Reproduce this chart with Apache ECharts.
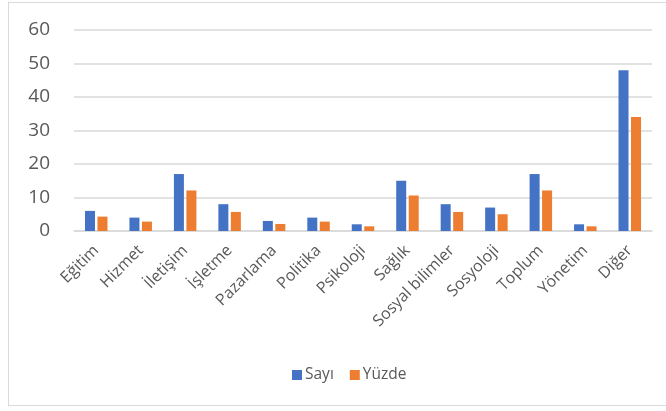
<!DOCTYPE html>
<html><head><meta charset="utf-8">
<script src="https://cdn.jsdelivr.net/npm/echarts@6/dist/echarts.min.js"></script>
<style>html,body{margin:0;padding:0;background:#fff;}
#frame{position:absolute;left:8px;top:2px;width:660px;height:404px;border:1.5px solid #d9d9d9;box-sizing:border-box;}
#c{position:absolute;left:0;top:0;width:666px;height:411px;}</style>
</head><body><div id="frame"></div><div id="c"></div>
<script>
const categories = ["Eğitim","Hizmet","İletişim","İşletme","Pazarlama","Politika","Psikoloji","Sağlık","Sosyal bilimler","Sosyoloji","Toplum","Yönetim","Diğer"];
const sayi = [6,4,17,8,3,4,2,15,8,7,17,2,48];
const yuzde = [4.3,2.8,12.1,5.7,2.1,2.8,1.4,10.6,5.7,5.0,12.1,1.4,34.0];
const yTicks = [0,10,20,30,40,50,60];
const font = "Open Sans";
const chart = echarts.init(document.getElementById('c'));
chart.setOption({
  animation:false,
  textStyle:{fontFamily:font},
  grid:{left:74,right:14,top:30,bottom:180,containLabel:false},
  legend:{top:362,left:287,itemWidth:10,itemHeight:10,itemGap:16,icon:'rect',
    textStyle:{fontFamily:font,fontSize:15.5,color:'#595959',padding:[0,0,0,-2]},data:['Sayı','Yüzde']},
  xAxis:{type:'category',data:categories,
    axisLine:{lineStyle:{color:'#d9d9d9',width:1.5}},axisTick:{show:false},
    axisLabel:{rotate:45,interval:0,margin:17,fontSize:16,color:'#595959',fontFamily:font}},
  yAxis:{type:'value',min:yTicks[0],max:yTicks[yTicks.length-1],interval:10,
    axisLine:{show:false},axisTick:{show:false},
    splitLine:{lineStyle:{color:'#d9d9d9',width:1.5}},
    axisLabel:{fontSize:19,color:'#595959',margin:24,fontFamily:font}},
  series:[
    {name:'Sayı',type:'bar',data:sayi,barWidth:10,barGap:'25%',itemStyle:{color:'#4472c4'}},
    {name:'Yüzde',type:'bar',data:yuzde,barWidth:10,itemStyle:{color:'#ed7d31'}}
  ]
});
</script></body></html>
